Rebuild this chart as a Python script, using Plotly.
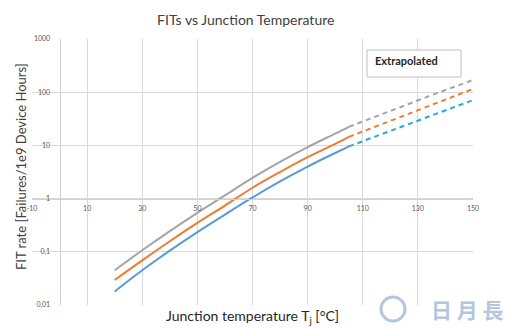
import plotly.graph_objects as go

# temperatures (°C)
t_solid = [20, 30, 40, 50, 60, 70, 80, 90, 100, 105]
t_ext = [105, 120, 135, 150]

# FIT rates (log-scale)
gray_solid = [0.045, 0.107, 0.245, 0.54, 1.15, 2.45, 4.9, 9.3, 16.6, 22.4]
orange_solid = [0.0295, 0.069, 0.158, 0.35, 0.74, 1.6, 3.16, 6.0, 10.7, 14.5]
blue_solid = [0.018, 0.045, 0.105, 0.235, 0.5, 1.05, 2.1, 4.0, 7.2, 9.6]
gray_ext = [22.4, 45, 88, 170]
orange_ext = [14.5, 29, 58, 115]
blue_ext = [9.6, 18.6, 36, 71]

x_ticks = [-10, 10, 30, 50, 70, 90, 110, 130, 150]
x_ticktext = ["-10", "10", "30", "50", "70", "90", "110", "130", "150"]
y_ticks = [0.01, 0.1, 1, 10, 100, 1000]
y_ticktext = ["0,01", "0,1", "1", "10", "100", "1000"]

GRAY = "#A5A5A5"
ORANGE = "#ED7D31"
BLUE = "#5B9BD5"
BLUE_EXT = "#2AA5E8"

fig = go.Figure()
for xs, ys, col in [(t_solid, gray_solid, GRAY), (t_solid, orange_solid, ORANGE), (t_solid, blue_solid, BLUE)]:
    fig.add_trace(go.Scatter(x=xs, y=ys, mode="lines", line=dict(color=col, width=2, shape="spline"),
                             showlegend=False, hoverinfo="skip"))
for xs, ys, col in [(t_ext, gray_ext, GRAY), (t_ext, orange_ext, ORANGE), (t_ext, blue_ext, BLUE_EXT)]:
    fig.add_trace(go.Scatter(x=xs, y=ys, mode="lines", line=dict(color=col, width=2, dash="5px,4px"),
                             showlegend=False, hoverinfo="skip"))

font_family = "Lato, 'Open Sans', sans-serif"

def px_x(p):
    return (p - 32) / 441

def px_y(p):
    return (305 - p) / 266

fig.update_layout(
    width=512, height=330,
    margin=dict(l=32, r=39, t=39, b=25),
    paper_bgcolor="white", plot_bgcolor="white",
    font=dict(family=font_family, color="#595959"),
    title=dict(text="FITs vs Junction Temperature", x=0.48, xanchor="center", y=1 - 20 / 330,
               yanchor="middle", font=dict(size=14, color="#404040", family=font_family)),
    xaxis=dict(range=[-10, 150], tickvals=x_ticks, ticktext=x_ticktext, showgrid=True,
               gridcolor="#D9D9D9", gridwidth=1, zeroline=False, showline=True, linecolor="#D0D0D0",
               anchor="free", position=0.4, ticks="", tickfont=dict(size=7, color="#595959"),
               ticklabelstandoff=3),
    yaxis=dict(type="log", range=[-2, 3], tickvals=y_ticks, ticktext=y_ticktext, showgrid=True,
               gridcolor="#D9D9D9", gridwidth=1, zeroline=False, showline=True, linecolor="#D0D0D0",
               anchor="free", position=10 / 160, ticks="", tickfont=dict(size=7, color="#595959"),
               ticklabelstandoff=8),
    shapes=[
        dict(type="rect", xref="paper", yref="paper", x0=px_x(367), x1=px_x(461),
             y0=px_y(77), y1=px_y(50), line=dict(color="#BFBFBF", width=1),
             fillcolor="white"),
        dict(type="circle", xref="paper", yref="paper", x0=px_x(381), x1=px_x(405),
             y0=px_y(321), y1=px_y(297), line=dict(color="#B4C6DE", width=3)),
    ],
    annotations=[
        dict(text="<b>Extrapolated</b>", xref="paper", yref="paper", x=px_x(373),
             y=px_y(60), xanchor="left", yanchor="middle", showarrow=False,
             font=dict(size=11, color="#262626", family=font_family)),
        dict(text="FIT rate [Failures/1e9 Device Hours]", xref="paper", yref="paper",
             x=px_x(21), y=px_y(167), textangle=-90, xanchor="center",
             yanchor="middle", showarrow=False, font=dict(size=13, color="#404040", family=font_family)),
        dict(text="Junction temperature T<sub>j</sub> [°C]", xref="paper", yref="paper",
             x=px_x(253), y=px_y(316), xanchor="center", yanchor="middle",
             showarrow=False, font=dict(size=14, color="#262626", family=font_family)),
        dict(text="<b>日 月 長</b>", xref="paper", yref="paper", x=px_x(506),
             y=px_y(309), xanchor="right", yanchor="middle", showarrow=False,
             font=dict(size=21, color="#B4C6DE", family="Noto Sans CJK TC")),
    ],
)

fig.write_html("out.html")
